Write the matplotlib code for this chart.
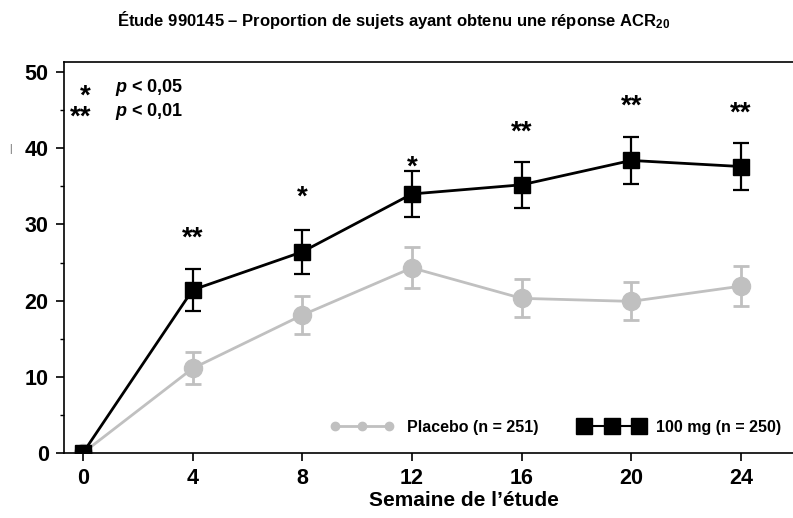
import matplotlib
matplotlib.use("Agg")
import matplotlib.pyplot as plt
from matplotlib.lines import Line2D
from matplotlib.ticker import MultipleLocator

plt.rcParams['font.family'] = ['Liberation Sans', 'DejaVu Sans']
plt.rcParams['mathtext.fontset'] = 'custom'
plt.rcParams['mathtext.rm'] = 'Liberation Sans:bold'
plt.rcParams['mathtext.bf'] = 'Liberation Sans:bold'
plt.rcParams['mathtext.it'] = 'Liberation Sans:bold:italic'

weeks = [0, 4, 8, 12, 16, 20, 24]
placebo = [0, 11.1, 18.1, 24.3, 20.3, 19.9, 21.9]
placebo_err = [0, 2.1, 2.5, 2.7, 2.5, 2.5, 2.6]
dose100 = [0, 21.4, 26.4, 34.0, 35.2, 38.4, 37.6]
dose100_err = [0, 2.8, 2.9, 3.0, 3.0, 3.1, 3.1]
sig_weeks = [4, 8, 12, 16, 20, 24]
sig_labels = ['**', '*', '*', '**', '**', '**']
sig_y = [28.2, 33.5, 37.5, 42.1, 45.4, 44.6]

xticks = [0, 4, 8, 12, 16, 20, 24]
yticks = [0, 10, 20, 30, 40, 50]

fig = plt.figure(figsize=(7.93, 5.18), dpi=100)
ax = fig.add_axes([0.0807, 0.1255, 0.9193, 0.7545])

gray = '#c0c0c0'
ax.errorbar(weeks, placebo, yerr=placebo_err, color=gray, marker='o', markersize=13,
            lw=2, capsize=6, capthick=2, elinewidth=2, zorder=2)
ax.errorbar(weeks, dose100, yerr=dose100_err, color='black', marker='s', markersize=11,
            lw=2, capsize=6, capthick=1.6, elinewidth=1.6, zorder=3)

for w, lab, yy in zip(sig_weeks, sig_labels, sig_y):
    ax.text(w, yy, lab, ha='center', va='center', fontsize=20, fontweight='bold',
            color='black')

ax.set_xlim(-0.69, 25.9)
ax.set_ylim(0, 51.3)
ax.set_xticks(xticks)
ax.set_yticks(yticks)
ax.yaxis.set_minor_locator(MultipleLocator(5))
ax.tick_params(axis='both', which='major', direction='out', length=6, width=1.2,
               labelsize=15.5, pad=5)
ax.tick_params(axis='y', which='minor', direction='out', length=3, width=1)
for lbl in ax.get_xticklabels() + ax.get_yticklabels():
    lbl.set_fontweight('bold')
ax.spines['right'].set_visible(False)
for s in ['left', 'bottom', 'top']:
    ax.spines[s].set_linewidth(1.2)

ax.set_xlabel("Semaine de l\u2019étude", fontsize=15, fontweight='bold')
ax.xaxis.set_label_coords(0.549, -0.098)

fig.text(0.497, 0.962, "Étude 990145 – Proportion de sujets ayant obtenu une réponse ACR$_{\\mathbf{20}}$",
         ha='center', va='center', fontsize=12.0, fontweight='bold')

# small stray mark at left
fig.text(0.013, 0.712, '|', fontsize=7, color='#555555', ha='center', va='center')

# significance key
ax.text(0.037, 0.885, '*\n**', transform=ax.transAxes, fontsize=20, fontweight='bold',
        ha='right', va='center', multialignment='right', linespacing=0.72)
ax.text(0.070, 0.934, '$\\mathit{p}$ < 0,05', transform=ax.transAxes, fontsize=13,
        fontweight='bold', ha='left', va='center')
ax.text(0.070, 0.875, '$\\mathit{p}$ < 0,01', transform=ax.transAxes, fontsize=13,
        fontweight='bold', ha='left', va='center')

h1 = Line2D([], [], color=gray, marker='o', markersize=6, lw=2)
h2 = Line2D([], [], color='black', marker='s', markersize=11, lw=1.5)
ax.legend([h1, h2], ['Placebo (n = 251)', '100 mg (n = 250)'], ncol=2, numpoints=3,
          handlelength=4.0, handletextpad=0.8, columnspacing=2.6, frameon=False,
          prop={'weight': 'bold', 'size': 11.5},
          loc='center left', bbox_to_anchor=(0.345, 0.066))

fig.savefig('out.png', dpi=100)
